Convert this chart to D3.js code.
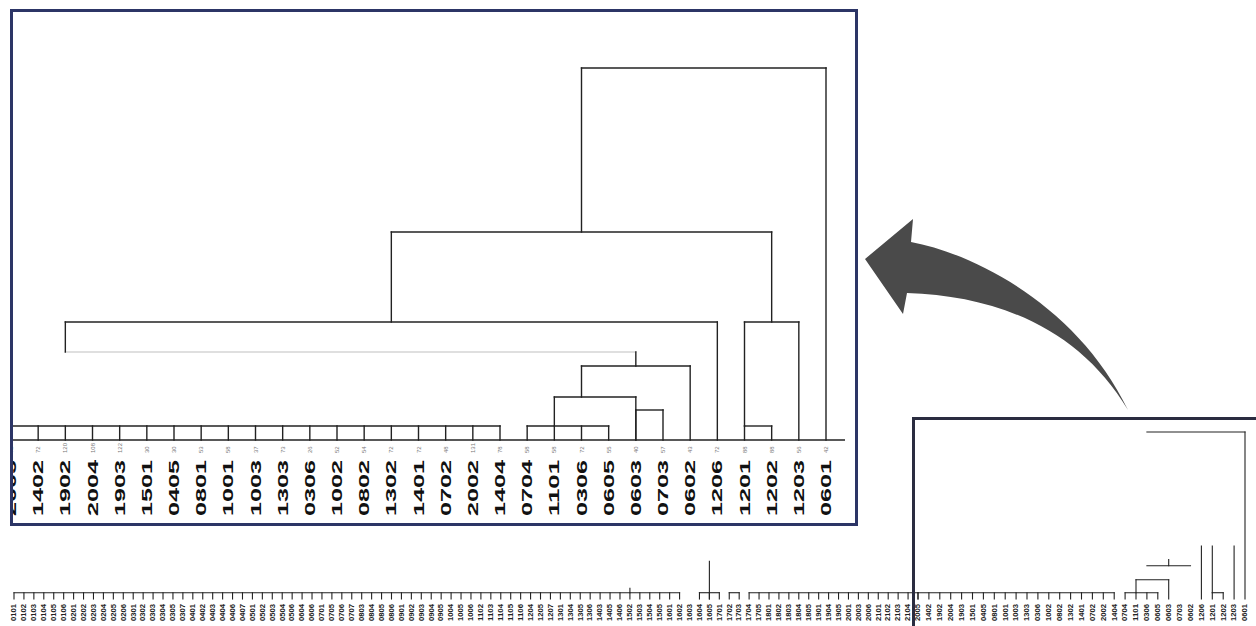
<!DOCTYPE html>
<html>
<head>
<meta charset="utf-8">
<script src="https://cdn.jsdelivr.net/npm/d3@7"></script>
<style>
body { margin: 0; background: #fff; }
svg { display: block; font-family: "Liberation Sans", Arial, sans-serif; }
</style>
</head>
<body>
<svg id="chart" width="1256" height="626"></svg>
<script>
// zoomed leaves, left to right
const leafLabels = ["2005","1402","1902","2004","1903","1501","0405","0801","1001","1003","1303","0306","1002","0802","1302","1401","0702","2002","1404","0704","1101","0306","0605","0603","0703","0602","1206","1201","1202","1203","0601"];
const leafCounts = ["72","72","120","108","122","30","30","53","58","37","73","26","52","54","72","72","48","131","78","58","58","72","55","40","57","43","72","88","88","56","42"];

// the rest of the full tree (bottom strip), before the zoomed part
const otherLabels = [
  "0101","0102","0103","0104","0105","0106","0201","0202","0203","0204",
  "0205","0206","0301","0302","0303","0304","0305","0307","0401","0402",
  "0403","0404","0406","0407","0501","0502","0503","0504","0506","0604",
  "0606","0701","0705","0706","0707","0803","0804","0805","0806","0901",
  "0902","0903","0904","0905","1004","1005","1006","1102","1103","1104",
  "1105","1106","1204","1205","1207","1301","1304","1305","1306","1403",
  "1405","1406","1502","1503","1504","1505","1601","1602","1603","1604",
  "1605","1701","1702","1703","1704","1705","1801","1802","1803","1804",
  "1805","1901","1904","1905","2001","2003","2006","2101","2102","2103",
  "2104"];

// merges: [left leaf, right leaf, height, left foot, right foot]
const merges = [
  [20, 23, 10.75, 3.5, 0],
  [23, 24, 7.5, 0, 0],
  [21, 25, 18.5, 10.75, 0],
  [2, 26, 29.5, 22, 0],
  [27, 29, 29.5, 3.5, 0],
  [14, 28, 52, 29.5, 29.5],
  [21, 30, 93, 52, 0]
];
// which parts of each merge still show in the small overview
const overviewParts = ["hlr", "", "h", "r", "lr", "", "hr"];
const combs = [[0, 18], [19, 22], [27, 28]];
const combHeight = 3.5;
const stems = [[23, 18.5, 22]];
const faintLinks = [[2, 23, 22]];
const otherCombs = [[0, 67], [69, 71], [72, 73], [74, 91]];
const otherStems = [[62, 3.5, 6], [70, 0, 21]];

const svg = d3.select("#chart");
const nOther = otherLabels.length;

function treeSegs(off, parts) {
  let s = [];
  merges.forEach((m, i) => {
    let p = parts ? parts[i] : "hlr";
    let [a, b, h, fa, fb] = m;
    if (p.includes("h")) s.push([a + off, h, b + off, h]);
    if (p.includes("l")) s.push([a + off, fa, a + off, h]);
    if (p.includes("r")) s.push([b + off, fb, b + off, h]);
  });
  combs.forEach(([a, b]) => {
    s.push([a + off, combHeight, b + off, combHeight]);
    d3.range(a, b + 1).forEach(i => s.push([i + off, 0, i + off, combHeight]));
  });
  stems.forEach(([i, h0, h1]) => s.push([i + off, h0, i + off, h1]));
  return s;
}

function drawSegs(g, segs, x, y, stroke, w) {
  g.append("g").selectAll("line").data(segs).join("line")
    .attr("x1", d => x(d[0])).attr("y1", d => y(d[1]))
    .attr("x2", d => x(d[2])).attr("y2", d => y(d[3]))
    .attr("stroke", stroke).attr("stroke-width", w)
    .attr("stroke-linecap", "square");
}

// ---- zoomed dendrogram (big box)
svg.append("clipPath").attr("id", "inner")
  .append("rect").attr("x", 13).attr("y", 12).attr("width", 842).attr("height", 511);

const x = d3.scaleLinear().domain([0, leafLabels.length - 1]).range([11, 826]);
const y = d3.scaleLinear().domain([0, 93]).range([440, 68]);
const big = svg.append("g").attr("clip-path", "url(#inner)");

drawSegs(big, faintLinks.map(([a, b, h]) => [a, h, b, h]), x, y, "#d4d4d4", 1.5);
drawSegs(big, treeSegs(0), x, y, "#222", 1.4);

big.append("line")
  .attr("x1", 13).attr("x2", 845).attr("y1", y(0)).attr("y2", y(0))
  .attr("stroke", "#222").attr("stroke-width", 1.5);

big.selectAll("text.cnt").data(leafCounts).join("text")
  .attr("class", "cnt")
  .attr("transform", (d, i) => `translate(${x(i) + 2},453) rotate(-90)`)
  .attr("font-size", 6).attr("fill", "#777")
  .text(d => d);

big.selectAll("text.leaf").data(leafLabels).join("text")
  .attr("class", "leaf")
  .attr("transform", (d, i) => `translate(${x(i) + 5},516) rotate(-90)`)
  .attr("font-size", 14).attr("font-weight", "bold").attr("fill", "#111")
  .attr("textLength", 56).attr("lengthAdjust", "spacingAndGlyphs")
  .text(d => d);

svg.append("rect")
  .attr("x", 11.5).attr("y", 10.5).attr("width", 845).attr("height", 514)
  .attr("fill", "none").attr("stroke", "#2c3566").attr("stroke-width", 3);

// ---- full tree strip at the bottom
const allLabels = otherLabels.concat(leafLabels);
const xo = d3.scaleLinear().domain([0, nOther, allLabels.length - 1]).range([14, 918, 1245]);
const yo = d3.scaleLinear().domain([0, 93]).range([599, 432]);
const small = svg.append("g");

let oSegs = [];
otherCombs.forEach(([a, b]) => {
  oSegs.push([a, combHeight, b, combHeight]);
  d3.range(a, b + 1).forEach(i => oSegs.push([i, 0, i, combHeight]));
});
otherStems.forEach(([i, h0, h1]) => oSegs.push([i, h0, i, h1]));
drawSegs(small, oSegs.concat(treeSegs(nOther, overviewParts)), xo, yo, "#222", 1.1);

small.selectAll("text").data(allLabels).join("text")
  .attr("transform", (d, i) => `translate(${xo(i) + 2.3},621) rotate(-90)`)
  .attr("font-size", 6.5).attr("font-weight", "bold").attr("fill", "#222")
  .attr("textLength", 17).attr("lengthAdjust", "spacingAndGlyphs")
  .text(d => d);

svg.append("rect")
  .attr("x", 913.5).attr("y", 418.5).attr("width", 360).attr("height", 260)
  .attr("fill", "none").attr("stroke", "#2a2c40").attr("stroke-width", 3);

// ---- curved arrow from the small box to the big one
svg.append("path")
  .attr("d", "M865,259 L913,219 L911,242 C980,255 1080,310 1128,410 C1080,330 1000,296 907,293 L903,314 Z")
  .attr("fill", "#4a4a4a");
</script>
</body>
</html>
